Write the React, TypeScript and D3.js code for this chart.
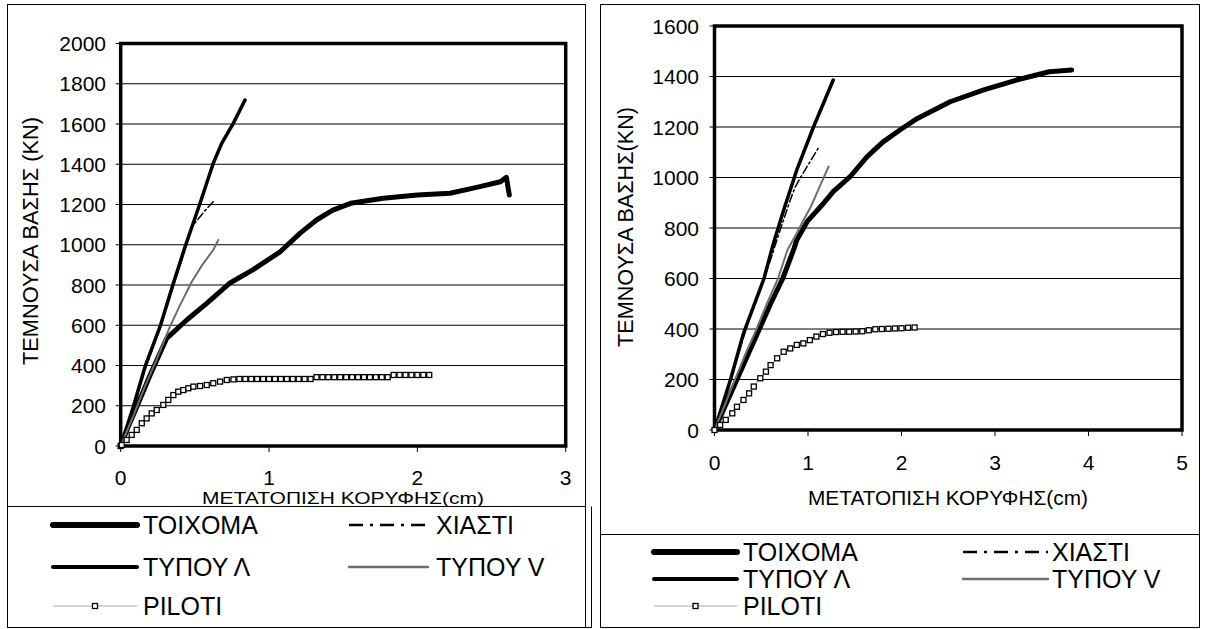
import React from 'react';
import * as d3 from 'd3';

type Pt = [number, number];

// Series order as used by both panels and the legend
const seriesNames = ['ΤΟΙΧΟΜΑ', 'ΧΙΑΣΤΙ', 'ΤΥΠΟΥ Λ', 'ΤΥΠΟΥ V', 'PILOTI'];

const xTitle = 'ΜΕΤΑΤΟΠΙΣΗ ΚΟΡΥΦΗΣ(cm)';
const leftYTitle = 'ΤΕΜΝΟΥΣΑ ΒΑΣΗΣ (ΚΝ)';
const rightYTitle = 'ΤΕΜΝΟΥΣΑ ΒΑΣΗΣ(ΚΝ)';

const leftXTicks = [0, 1, 2, 3];
const leftYTicks = [0, 200, 400, 600, 800, 1000, 1200, 1400, 1600, 1800, 2000];
const rightXTicks = [0, 1, 2, 3, 4, 5];
const rightYTicks = [0, 200, 400, 600, 800, 1000, 1200, 1400, 1600];

// Left panel: roof displacement (cm) vs base shear (kN)
const leftWall: Pt[] = [
  [0, 0], [0.05, 95], [0.1, 180], [0.2, 355], [0.31, 535], [0.445, 626], [0.58, 709],
  [0.737, 810], [0.89, 875], [1.075, 965], [1.21, 1058], [1.32, 1123], [1.43, 1172],
  [1.55, 1206], [1.77, 1231], [2.0, 1247], [2.22, 1256], [2.4, 1285], [2.56, 1313],
  [2.6, 1335], [2.62, 1247],
];
const leftXBrace: Pt[] = [
  [0, 0], [0.09, 195], [0.17, 394], [0.27, 593], [0.36, 808], [0.44, 990],
  [0.479, 1090], [0.535, 1139], [0.58, 1180], [0.624, 1214],
];
const leftLambda: Pt[] = [
  [0, 0], [0.085, 195], [0.164, 394], [0.265, 593], [0.355, 808], [0.434, 990],
  [0.535, 1206], [0.624, 1405], [0.681, 1504], [0.759, 1603], [0.838, 1719],
];
const leftVBrace: Pt[] = [
  [0, 0], [0.085, 150], [0.16, 290], [0.24, 427], [0.332, 593], [0.4, 700],
  [0.479, 816], [0.55, 900], [0.624, 974], [0.658, 1024],
];
const leftPiloti: Pt[] = [
  [0, 0], [0.007, 5], [0.04, 30], [0.074, 55], [0.108, 80], [0.142, 113], [0.175, 137],
  [0.209, 162], [0.243, 179], [0.287, 204], [0.321, 229], [0.355, 253], [0.388, 270],
  [0.422, 278], [0.456, 287], [0.49, 295], [0.535, 298], [0.58, 303], [0.624, 312],
  [0.67, 320], [0.715, 328], [0.76, 331], [0.8, 333], [0.84, 333], [0.88, 333],
  [0.92, 333], [0.96, 333], [1.0, 333], [1.04, 333], [1.08, 333], [1.12, 333],
  [1.16, 333], [1.2, 333], [1.24, 333], [1.28, 333], [1.32, 342], [1.36, 342],
  [1.4, 342], [1.44, 342], [1.48, 342], [1.52, 342], [1.56, 342], [1.6, 342],
  [1.64, 342], [1.68, 342], [1.72, 342], [1.76, 342], [1.8, 342], [1.84, 353],
  [1.88, 353], [1.92, 353], [1.96, 353], [2.0, 353], [2.04, 353], [2.08, 353],
];

// Right panel
const rightWall: Pt[] = [
  [0, 0], [0.12, 100], [0.24, 200], [0.36, 300], [0.48, 400], [0.6, 500], [0.73, 600],
  [0.845, 713], [0.88, 752], [0.99, 825], [1.15, 891], [1.27, 944], [1.45, 1003],
  [1.63, 1082], [1.8, 1140], [1.99, 1190], [2.17, 1234], [2.52, 1300], [2.88, 1347],
  [3.23, 1386], [3.58, 1419], [3.82, 1426],
];
const rightXBrace: Pt[] = [
  [0, 0], [0.1, 115], [0.2, 230], [0.3, 355], [0.4, 470], [0.5, 570], [0.6, 675],
  [0.7, 790], [0.8, 900], [0.86, 960], [0.92, 1000], [0.99, 1043], [1.05, 1080], [1.11, 1116],
];
const rightLambda: Pt[] = [
  [0, 0], [0.17, 198], [0.31, 383], [0.53, 601], [0.63, 739], [0.74, 871],
  [0.88, 1030], [1.06, 1201], [1.27, 1386],
];
const rightVBrace: Pt[] = [
  [0, 0], [0.1, 90], [0.22, 200], [0.33, 300], [0.45, 400], [0.56, 500], [0.68, 600],
  [0.78, 713], [0.88, 779], [0.95, 830], [1.03, 884], [1.12, 960], [1.22, 1043],
];
const rightPiloti: Pt[] = [
  [0, 0], [0.06, 20], [0.12, 40], [0.19, 66], [0.24, 92], [0.31, 119], [0.37, 145],
  [0.42, 172], [0.49, 205], [0.55, 231], [0.6, 257], [0.67, 284], [0.74, 310],
  [0.81, 323], [0.88, 337], [0.95, 343], [1.02, 356], [1.09, 370], [1.16, 380],
  [1.23, 385], [1.3, 388], [1.37, 389], [1.44, 389], [1.51, 390], [1.58, 391],
  [1.65, 395], [1.72, 399], [1.79, 400], [1.86, 401], [1.93, 402], [2.0, 403],
  [2.07, 405], [2.14, 406],
];

const FONT = '"Liberation Sans", Arial, Helvetica, sans-serif';

type Style = { stroke: string; width: number; dash?: string; marker?: boolean; lw: number; ldash?: string };
const styles: Record<string, Style> = {
  'ΤΟΙΧΟΜΑ': { stroke: '#000', width: 5, lw: 6 },
  'ΧΙΑΣΤΙ': { stroke: '#000', width: 1.5, dash: '8 3 2 3', lw: 2.4, ldash: '14 7 3 7' },
  'ΤΥΠΟΥ Λ': { stroke: '#000', width: 3.5, lw: 4 },
  'ΤΥΠΟΥ V': { stroke: '#6e6e6e', width: 2, lw: 2.4 },
  'PILOTI': { stroke: '#c4c4c4', width: 1.2, marker: true, lw: 1.6 },
};

type PanelCfg = {
  frame: { x0: number; y0: number; x1: number; y1: number; legendTop: number; legendRight: number };
  xDomain: [number, number];
  yDomain: [number, number];
  plot: { x0: number; x1: number; top: number; bottom: number };
  xTicks: number[];
  yTicks: number[];
  yLabelRight: number;
  xLabelBaseline: number;
  yTitle: { text: string; x: number; y: number; len: number };
  xTitleLayout: { x: number; y: number; size: number; len: number };
  data: Pt[][];
  legend: { rows: number[]; cols: { x0: number; x1: number; tx: number }[] };
};

const leftCfg: PanelCfg = {
  frame: { x0: 7.5, y0: 4.5, x1: 585.5, y1: 627.5, legendTop: 506.5, legendRight: 591.5 },
  xDomain: [0, 3],
  yDomain: [0, 2000],
  plot: { x0: 120.7, x1: 565.7, top: 43.5, bottom: 446 },
  xTicks: leftXTicks,
  yTicks: leftYTicks,
  yLabelRight: 106,
  xLabelBaseline: 485,
  yTitle: { text: leftYTitle, x: 38, y: 241, len: 248 },
  xTitleLayout: { x: 343, y: 504, size: 17, len: 282 },
  data: [leftWall, leftXBrace, leftLambda, leftVBrace, leftPiloti],
  legend: {
    rows: [525, 567, 606],
    cols: [{ x0: 53, x1: 137, tx: 143 }, { x0: 349, x1: 428, tx: 436 }],
  },
};

const rightCfg: PanelCfg = {
  frame: { x0: 600.5, y0: 4.5, x1: 1199.5, y1: 627.5, legendTop: 534.5, legendRight: 1199.5 },
  xDomain: [0, 5],
  yDomain: [0, 1600],
  plot: { x0: 714.5, x1: 1182, top: 26, bottom: 430 },
  xTicks: rightXTicks,
  yTicks: rightYTicks,
  yLabelRight: 699,
  xLabelBaseline: 470,
  yTitle: { text: rightYTitle, x: 633, y: 227, len: 240 },
  xTitleLayout: { x: 948, y: 505, size: 20.5, len: 280 },
  data: [rightWall, rightXBrace, rightLambda, rightVBrace, rightPiloti],
  legend: {
    rows: [552, 579, 606],
    cols: [{ x0: 654, x1: 737, tx: 743 }, { x0: 963, x1: 1048, tx: 1052 }],
  },
};

function Marker({ cx, cy }: { cx: number; cy: number }) {
  return <rect x={cx - 2.5} y={cy - 2.5} width={5} height={5} fill="#fff" stroke="#000" strokeWidth={1.3} />;
}

function Panel({ cfg }: { cfg: PanelCfg }) {
  const { plot, frame } = cfg;
  const x = d3.scaleLinear().domain(cfg.xDomain).range([plot.x0, plot.x1]);
  const y = d3.scaleLinear().domain(cfg.yDomain).range([plot.bottom, plot.top]);
  const line = d3.line<Pt>().x((d) => x(d[0])).y((d) => y(d[1]));

  return (
    <g>
      {/* outer chart frame and legend box */}
      <rect x={frame.x0} y={frame.y0} width={frame.x1 - frame.x0} height={frame.y1 - frame.y0}
        fill="#fff" stroke="#000" strokeWidth={1} />
      <line x1={frame.x0} x2={frame.x1} y1={frame.legendTop} y2={frame.legendTop} stroke="#000" strokeWidth={1} />
      <polyline
        points={`${frame.x0},${frame.y1} ${frame.legendRight},${frame.y1} ${frame.legendRight},${frame.legendTop}`}
        fill="none" stroke="#000" strokeWidth={1} />

      {/* gridlines */}
      {cfg.yTicks.map((t) => (
        <line key={'g' + t} x1={plot.x0} x2={plot.x1} y1={y(t)} y2={y(t)} stroke="#000" strokeWidth={1} />
      ))}
      {/* y ticks and labels */}
      {cfg.yTicks.map((t) => (
        <g key={'y' + t}>
          <line x1={plot.x0 - 5} x2={plot.x0} y1={y(t)} y2={y(t)} stroke="#000" strokeWidth={1} />
          <text x={cfg.yLabelRight} y={y(t) + 7.5} textAnchor="end" fontSize={21} fontFamily={FONT}>{t}</text>
        </g>
      ))}
      {/* x ticks and labels */}
      {cfg.xTicks.map((t) => (
        <g key={'x' + t}>
          <line x1={x(t)} x2={x(t)} y1={plot.bottom} y2={plot.bottom + 6} stroke="#000" strokeWidth={1} />
          <text x={x(t)} y={cfg.xLabelBaseline} textAnchor="middle" fontSize={21} fontFamily={FONT}>{t}</text>
        </g>
      ))}

      {/* plot area border */}
      <rect x={plot.x0} y={plot.top} width={plot.x1 - plot.x0} height={plot.bottom - plot.top}
        fill="none" stroke="#000" strokeWidth={3.5} />

      {/* series */}
      {cfg.data.map((pts, i) => {
        const s = styles[seriesNames[i]];
        return (
          <g key={'s' + i}>
            <path d={line(pts) ?? ''} fill="none" stroke={s.stroke} strokeWidth={s.width}
              strokeDasharray={s.dash} strokeLinejoin="round" strokeLinecap="round" />
            {s.marker && pts.map((p, j) => <Marker key={j} cx={x(p[0])} cy={y(p[1])} />)}
          </g>
        );
      })}

      {/* axis titles */}
      <text transform={`translate(${cfg.yTitle.x},${cfg.yTitle.y}) rotate(-90)`} textAnchor="middle"
        fontSize={21.5} fontFamily={FONT} textLength={cfg.yTitle.len} lengthAdjust="spacingAndGlyphs">
        {cfg.yTitle.text}
      </text>
      <text x={cfg.xTitleLayout.x} y={cfg.xTitleLayout.y} textAnchor="middle" fontSize={cfg.xTitleLayout.size}
        fontFamily={FONT} textLength={cfg.xTitleLayout.len} lengthAdjust="spacingAndGlyphs">
        {xTitle}
      </text>

      {/* legend */}
      {seriesNames.map((name, i) => {
        const s = styles[name];
        const col = cfg.legend.cols[i % 2];
        const ry = cfg.legend.rows[Math.floor(i / 2)];
        return (
          <g key={'l' + name}>
            <line x1={col.x0} x2={col.x1} y1={ry} y2={ry} stroke={s.stroke} strokeWidth={s.lw}
              strokeDasharray={s.ldash} strokeLinecap={s.ldash || s.marker ? 'butt' : 'round'} />
            {s.marker && <Marker cx={(col.x0 + col.x1) / 2} cy={ry} />}
            <text x={col.tx} y={ry + 9} fontSize={25} fontFamily={FONT}>{name}</text>
          </g>
        );
      })}
    </g>
  );
}

export default function App() {
  return (
    <div style={{ position: 'absolute', left: 0, top: 0 }}>
      <svg width={1208} height={629} viewBox="0 0 1208 629" style={{ display: 'block', background: '#fff' }}>
        <rect x={0} y={0} width={1208} height={629} fill="#fff" />
        <Panel cfg={leftCfg} />
        <Panel cfg={rightCfg} />
      </svg>
    </div>
  );
}
